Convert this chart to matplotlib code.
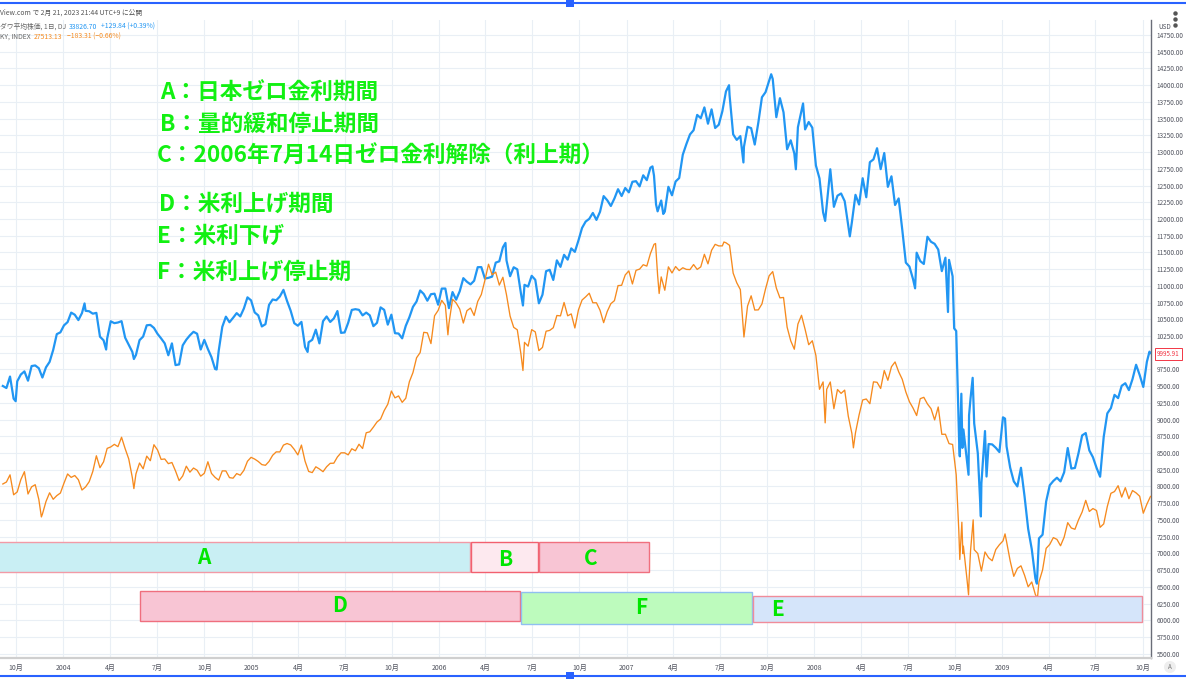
import matplotlib
matplotlib.use('Agg')
import matplotlib.pyplot as plt
import matplotlib.dates as mdates
import matplotlib.patches as mpatches
from matplotlib.lines import Line2D
from matplotlib.ticker import FuncFormatter, FixedLocator
import numpy as np
import pandas as pd

plt.rcParams['font.family'] = ['Noto Sans CJK JP', 'DejaVu Sans']

# ---------------- data (weekly Friday closes) ----------------
dow_2003 = [9503, 9472, 9644, 9313, 9572, 9674, 9721, 9582, 9801, 9810, 9768, 9629, 9782,
            9863, 10042, 10278, 10305]
dow_2004 = [10409, 10458, 10600, 10568, 10488, 10593, 10627, 10620, 10584, 10596, 10240, 10186,
            10212, 10470, 10442, 10452, 10472, 10225, 10117, 10012, 9966, 10188, 10242, 10410,
            10416, 10371, 10282, 10214, 10140, 9962, 10140, 9815, 9825, 10110, 10195, 10260,
            10313, 10284, 10048, 10192, 10055, 9933, 9757, 10027, 10387, 10539, 10456, 10522,
            10592, 10543, 10661, 10828, 10783]
dow_2005 = [10603, 10558, 10393, 10427, 10716, 10796, 10785, 10841, 10940, 10774, 10629, 10442,
            10404, 10461, 10087, 10157, 10193, 10345, 10140, 10471, 10542, 10460, 10512, 10623,
            10297, 10303, 10449, 10640, 10651, 10641, 10558, 10600, 10559, 10397, 10447, 10678,
            10641, 10420, 10569, 10292, 10287, 10215, 10402, 10530, 10686, 10766, 10931, 10878,
            10778, 10875, 10883, 10718]
dow_2006 = [10959, 10960, 10667, 10907, 10793, 10919, 11115, 11061, 11022, 11076, 11279, 11280,
            11109, 11120, 11138, 11347, 11367, 11577, 11380, 11144, 11278, 11247, 10891, 11015,
            10989, 11150, 11090, 10739, 10868, 11219, 11240, 11088, 11381, 11284, 11464, 11392,
            11560, 11508, 11679, 11866, 11961, 12002, 12090, 11986, 12108, 12342, 12280, 12194,
            12307, 12445, 12343, 12463]
dow_2007 = [12398, 12556, 12565, 12487, 12653, 12580, 12767, 12647, 12114, 12276, 12110, 12481,
            12354, 12560, 12612, 12961, 13120, 13264, 13327, 13556, 13507, 13668, 13424, 13639,
            13360, 13409, 13611, 13907, 13851, 13265, 13182, 13239, 13079, 13379, 13358, 13113,
            13442, 13820, 13896, 14066, 14093, 13522, 13806, 13595, 13042, 13176, 12980, 13372,
            13625, 13339, 13450, 13365]
dow_2008 = [12800, 12606, 12099, 12207, 12743, 12182, 12348, 12381, 12266, 11894, 11951, 12361,
            12216, 12609, 12325, 12849, 12891, 13058, 12745, 12986, 12480, 12638, 12209, 12307,
            11842, 11347, 11288, 11100, 11496, 11370, 11327, 11734, 11659, 11628, 11543, 11220,
            11421, 11388, 11143, 10325, 8451, 8852, 8378, 9325, 8943, 8497, 8046, 8829,
            8635, 8629, 8579, 8515]
dow_2009 = [9034, 8599, 8281, 8077, 8001, 8280, 7850, 7366, 7063, 6627, 7224, 7279, 7776,
            8018, 8083, 8131, 8076, 8212, 8575, 8268, 8277, 8500, 8764, 8799, 8539, 8438,
            8281, 8146, 8743, 9093, 9172, 9370, 9321, 9506, 9544, 9441, 9605, 9820, 9666,
            9488, 9865, 9996]
dow_extra_dates = ['2003-09-30', '2004-02-11', '2004-03-24', '2004-05-17', '2004-10-25',
                   '2005-04-20', '2006-05-10', '2006-06-13', '2007-02-20', '2007-02-27',
                   '2007-03-13', '2007-07-19', '2007-08-16', '2007-10-09', '2007-11-26',
                   '2007-12-10', '2008-01-22', '2008-03-10', '2008-07-15', '2008-09-17',
                   '2008-09-29', '2008-10-09', '2008-10-13', '2008-10-15', '2008-10-27',
                   '2008-10-28', '2008-11-04', '2008-11-20', '2008-12-01', '2009-01-06',
                   '2009-03-09', '2009-10-14']
dow_extra_values = [9275, 10737, 10048, 9906, 9749, 10012, 11642, 10706, 12786, 12216,
                    12075, 14000, 12845, 14164, 12743, 13727, 11971, 11740, 10963, 10609,
                    10365, 8579, 9387, 8577, 8175, 9065, 9625, 7552, 8149, 9015,
                    6547, 10016]

nk_2003 = [10650, 10712, 10938, 10310, 10400, 10786, 11037, 10335, 10560, 10628, 10167, 9700,
           10100, 10373, 10169, 10284, 10365]
nk_2004 = [10677, 10965, 10858, 10916, 10784, 10460, 10557, 10721, 11041, 11537, 11162, 11347,
           11770, 11815, 11897, 11824, 12120, 11761, 11438, 10850, 10966, 11310, 11128, 11526,
           11382, 11885, 11721, 11423, 11437, 11290, 11326, 11060, 10757, 10903, 11210, 11022,
           11152, 11082, 10896, 10986, 11349, 10982, 10858, 10771, 11062, 11060, 10850, 10833,
           10977, 10926, 11078, 11365, 11488]
nk_2005 = [11434, 11358, 11259, 11238, 11360, 11553, 11660, 11658, 11873, 11923, 11879, 11739,
           11565, 11874, 11370, 11045, 11008, 11191, 11122, 11037, 11192, 11300, 11304, 11500,
           11630, 11630, 11566, 11758, 11695, 11900, 11766, 12261, 12291, 12439, 12600, 12692,
           12958, 13159, 13574, 13359, 13420, 13218, 13346, 13866, 14155, 14619, 14784, 15421,
           15404, 15066, 15941, 16111]
nk_2006 = [16425, 16268, 15697, 16460, 16345, 16152, 15713, 16101, 16185, 15950, 16392, 16609,
           17059, 17563, 17233, 17314, 16906, 17153, 16601, 15930, 15578, 15500, 14746, 15105,
           14985, 15505, 15434, 14845, 14946, 15456, 15480, 15565, 15950, 15938, 16360, 15940,
           16000, 15557, 16127, 16436, 16537, 16651, 16350, 16350, 16113, 15725, 16076, 16321,
           16417, 16890, 16900, 17225]
nk_2007 = [17353, 16942, 17371, 17409, 17547, 17504, 17897, 18188, 17217, 17164, 16744, 17480,
           17288, 17490, 17363, 17452, 17400, 17394, 17553, 17399, 17480, 17875, 17574, 18001,
           18188, 18138, 18140, 18238, 18157, 17283, 16979, 16765, 15273, 16248, 16569, 16122,
           16127, 16313, 16786, 17199, 17331, 16814, 16505, 16517, 15583, 15154, 14889, 15681,
           15956, 15514, 15031, 15156]
nk_2008 = [14691, 13629, 13861, 13629, 13859, 13017, 13622, 13500, 13603, 12783, 12241, 12260,
           12820, 13293, 13323, 13176, 13863, 13849, 13655, 14219, 13911, 14338, 14489, 14181,
           13943, 13544, 13237, 13039, 12803, 13334, 13376, 13168, 13019, 12666, 13072, 12212,
           12215, 11920, 11893, 10938, 8276, 8693, 7649, 8576, 8583, 8462, 7910, 8512,
           8329, 8235, 8588, 8739]
nk_2009 = [8859, 8836, 8230, 7745, 7994, 8076, 7779, 7416, 7568, 7173, 7569, 7945, 8626,
           8749, 8964, 8907, 8707, 8977, 9433, 9265, 9225, 9523, 9768, 10135, 9786, 9877,
           9816, 9287, 9395, 9944, 10357, 10412, 10597, 10238, 10534, 10187, 10444, 10370,
           10265, 9731, 10016, 10258]
nk_extra_dates = ['2003-11-19', '2004-05-17', '2006-01-18', '2006-06-13', '2007-02-26',
                  '2007-03-05', '2007-07-09', '2008-01-22', '2008-03-17', '2008-10-08',
                  '2008-10-14', '2008-10-16', '2008-10-27', '2008-10-28', '2008-11-05',
                  '2009-01-06', '2009-03-10']
nk_extra_values = [9614, 10505, 15341, 14219, 18215, 16642, 18262, 12573, 11787, 9203,
                   9447, 8458, 7163, 7622, 9521, 9080, 7055]

year_starts = ['2003-09-05', '2004-01-02', '2005-01-07', '2006-01-06', '2007-01-05',
               '2008-01-04', '2009-01-02']

# Period boxes: label, start, end, top, bottom (in USD price units of the chart)
box_labels = ['A', 'B', 'C', 'D', 'F', 'E']
box_starts = ['2003-06-01', '2006-03-04', '2006-07-14', '2004-05-29', '2006-06-10', '2007-09-03']
box_ends = ['2006-03-02', '2006-07-12', '2007-02-13', '2006-06-08', '2007-09-02', '2009-09-29']
box_tops = [7170, 7165, 7175, 6431, 6422, 6368]
box_bottoms = [6721, 6716, 6726, 5989, 5944, 5968]
label_dates = ['2004-09-29', '2006-05-10', '2006-10-22', '2005-06-21', '2007-01-29', '2007-10-21']
label_values = [6935, 6905, 6920, 6215, 6195, 6160]

notes = ['A：日本ゼロ金利期間', 'B：量的緩和停止期間', 'C：2006年7月14日ゼロ金利解除（利上期）',
         'D：米利上げ期間', 'E：米利下げ', 'F：米利上げ停止期']

last_price = '9995.91'


def build(yearly, extra_dates, extra_values):
    parts = [pd.Series(v, index=pd.date_range(s, periods=len(v), freq='W-FRI'))
             for s, v in zip(year_starts, yearly)]
    parts.append(pd.Series(extra_values, index=pd.to_datetime(extra_dates)))
    s = pd.concat(parts).sort_index()
    return s.groupby(level=0).last()


dow = build([dow_2003, dow_2004, dow_2005, dow_2006, dow_2007, dow_2008, dow_2009],
            dow_extra_dates, dow_extra_values)
nk = build([nk_2003, nk_2004, nk_2005, nk_2006, nk_2007, nk_2008, nk_2009],
           nk_extra_dates, nk_extra_values)

# ---------------- figure ----------------
W, H = 1186, 679
fig = plt.figure(figsize=(W / 100, H / 100), dpi=100)
fig.patch.set_facecolor('white')


def fx(x):
    return x / W


def fy(y):
    return 1 - y / H


ax_top, ax_bot, ax_right = 20, 657.5, 1151
ax = fig.add_axes([0, fy(ax_bot), fx(ax_right), (ax_bot - ax_top) / H])
ax.set_xlim(pd.Timestamp('2003-08-30 12:00'), pd.Timestamp('2009-10-17'))
ax.set_ylim(5443, 14975)

ax2 = ax.twinx()
ax2.set_ylim(5192, 25245)
ax2.set_axis_off()

grid_c = '#e9eff5'
ax.set_axisbelow(True)
ax.grid(True, color=grid_c, lw=0.8)

ax.plot(dow.index, dow.values, color='#2196f3', lw=1.6, solid_joinstyle='round', zorder=2)
ax2.plot(nk.index, nk.values, color='#f68a1e', lw=0.95, solid_joinstyle='round', zorder=2)

# boxes
box_face = ['#c9eff4', '#fde9ef', '#f8c5d4', '#f8c5d4', '#bdfbbd', '#d5e5fa']
box_edge = ['#f29aa6', '#f2606f', '#f0707f', '#ef6f7e', '#90bff0', '#f08c9a']
for s, e, t, b, fc, ec in zip(box_starts, box_ends, box_tops, box_bottoms, box_face, box_edge):
    x0 = mdates.date2num(pd.Timestamp(s))
    x1 = mdates.date2num(pd.Timestamp(e))
    r = mpatches.Rectangle((x0, b), x1 - x0, t - b, facecolor=fc, edgecolor=ec, lw=1.0,
                           transform=ax.transData, zorder=3)
    ax2.add_patch(r)

for lab, d, v in zip(box_labels, label_dates, label_values):
    ax2.text(mdates.date2num(pd.Timestamp(d)), v, lab, transform=ax.transData, ha='center',
             va='center', color='#00e600', fontsize=15, fontweight='bold', zorder=4)

# axes styling
for sp in ['top', 'left']:
    ax.spines[sp].set_visible(False)
ax.spines['right'].set_color('#6a6d78')
ax.spines['right'].set_linewidth(1.0)
ax.spines['bottom'].set_color('#cfcfcf')
ax.spines['bottom'].set_linewidth(1.6)

ax.xaxis.set_major_locator(mdates.MonthLocator(bymonth=[1, 4, 7, 10]))


def xfmt(v, pos):
    d = mdates.num2date(v)
    return str(d.year) if d.month == 1 else f'{d.month}月'


ax.xaxis.set_major_formatter(FuncFormatter(xfmt))
ax.tick_params(axis='x', length=0, pad=4.5, labelsize=5, labelcolor='#50535e')

ax.yaxis.tick_right()
ax.yaxis.set_major_locator(FixedLocator(np.arange(5500, 14751, 250)))
ax.yaxis.set_major_formatter(FuncFormatter(lambda v, p: '' if abs(v - 10000) < 1 else f'{v:.2f}'))
ax.tick_params(axis='y', length=0, pad=4.2, labelsize=4.6, labelcolor='#50535e')

# annotation notes
note_xy = [(160, 92), (160, 124), (157, 156), (159, 204), (157, 236), (157, 272)]
for (x, y), s in zip(note_xy, notes):
    fig.text(fx(x), fy(y), s, color='#12f012', fontsize=16.3, fontweight='bold',
             ha='left', va='center')

# header
hs = 4.9
fig.text(fx(0), fy(12.5), 'View.com で 2月 21, 2023 21:44 UTC+9 に公開', color='#555555',
         fontsize=hs, ha='left', va='center')
fig.text(fx(0), fy(27), 'ダウ平均株価, 1日, DJ', color='#666666', fontsize=hs, ha='left', va='center')
fig.text(fx(69), fy(27), '33826.70', color='#2196f3', fontsize=hs, ha='left', va='center')
fig.text(fx(101), fy(27), '+129.84 (+0.39%)', color='#2196f3', fontsize=hs, ha='left', va='center')
fig.text(fx(0), fy(37), 'KY, INDEX', color='#666666', fontsize=hs, ha='left', va='center')
fig.text(fx(34), fy(37), '27513.13', color='#f68a1e', fontsize=hs, ha='left', va='center')
fig.text(fx(67), fy(37), '−183.31 (−0.66%)', color='#f68a1e', fontsize=hs, ha='left', va='center')

# right scale extras
fig.text(fx(1158), fy(27), 'USD', color='#50535e', fontsize=4.6, ha='left', va='center')
fig.text(fx(1168.5), fy(354), last_price, color='#f23645',
         fontsize=4.5, ha='center', va='center',
         bbox=dict(boxstyle='square,pad=0.3', facecolor='white', edgecolor='#f23645', lw=0.7))
for yy in (13, 19, 25):
    fig.add_artist(Line2D([fx(1175)], [fy(yy)], marker='o', markersize=2.2, color='#555555',
                          transform=fig.transFigure))
fig.add_artist(mpatches.Ellipse((fx(1170), fy(667)), 12 / W, 12 / H, facecolor='#eeeeee',
                                edgecolor='none', transform=fig.transFigure))
fig.text(fx(1170), fy(667), 'A', color='#777777', fontsize=4.5, ha='center', va='center')

# frame lines (blue selection border)
for yy in (3, 676):
    fig.add_artist(Line2D([0, 1], [fy(yy), fy(yy)], color='#2962ff', lw=1.5,
                          transform=fig.transFigure))
    fig.add_artist(mpatches.Rectangle((fx(566), fy(yy + 4)), 8 / W, 8 / H, facecolor='#2962ff',
                                      edgecolor='none', transform=fig.transFigure))

fig.savefig('out.png', dpi=100, facecolor='white')
